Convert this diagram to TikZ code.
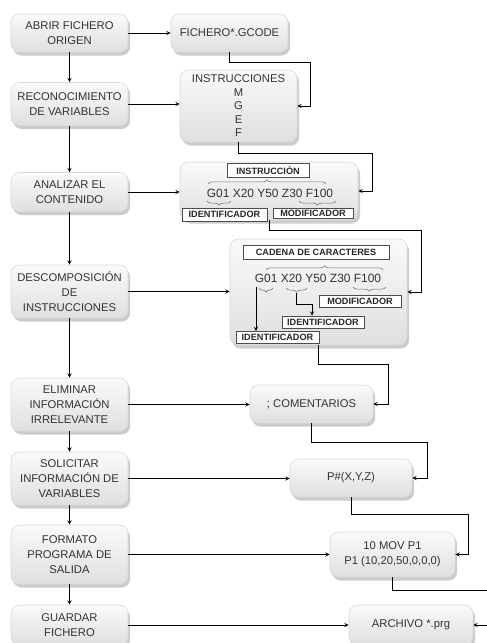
\documentclass[tikz,border=0pt]{standalone}
\usepackage{fontspec}
\setmainfont{Liberation Sans}
\usetikzlibrary{shadows,decorations.pathreplacing}

\begin{document}
\begin{tikzpicture}[x=0.025cm,y=-0.025cm,>=stealth,
  paso/.style={rounded corners=6pt,top color=gray!4,bottom color=gray!25,draw=gray!30,
    drop shadow={shadow xshift=1.5pt,shadow yshift=-2.5pt,opacity=0.4},
    align=center,inner sep=1pt,text=black!80,font=\fontsize{8}{10.5}\selectfont},
  etiqueta/.style={draw=black!70,fill=white,inner sep=0pt,text=black!85,font=\fontsize{6.5}{7}\selectfont\bfseries},
  codigo/.style={inner sep=0pt,text=black!80,font=\fontsize{8.5}{9}\selectfont},
  llave/.style={decorate,decoration={brace,amplitude=3pt},black!55}]
  \useasboundingbox (0,0) rectangle (486,643);
  % columna izquierda
  \node[paso,minimum width=2.925cm,minimum height=0.95cm] (abrir) at (69.5,33) {ABRIR FICHERO\\ORIGEN};
  \node[paso,minimum width=2.925cm,minimum height=1.075cm] (recon) at (69.5,104) {RECONOCIMIENTO\\DE VARIABLES};
  \node[paso,minimum width=2.925cm,minimum height=0.975cm] (analizar) at (69.5,192) {ANALIZAR EL\\CONTENIDO};
  \node[paso,minimum width=2.925cm,minimum height=1.325cm] (descomp) at (69.5,291.5) {DESCOMPOSICIÓN\\DE\\INSTRUCCIONES};
  \node[paso,minimum width=2.925cm,minimum height=1.325cm] (eliminar) at (69.5,404.5) {ELIMINAR\\INFORMACIÓN\\IRRELEVANTE};
  \node[paso,minimum width=2.925cm,minimum height=1.325cm] (solicitar) at (69.5,478.5) {SOLICITAR\\INFORMACIÓN DE\\VARIABLES};
  \node[paso,minimum width=2.925cm,minimum height=1.475cm] (formato) at (69.5,554.5) {FORMATO\\PROGRAMA DE\\SALIDA};
  \node[paso,minimum width=2.925cm,minimum height=1.0cm] (guardar) at (69.5,625) {GUARDAR\\FICHERO};
  % columna derecha
  \node[paso,minimum width=2.925cm,minimum height=0.95cm] (gcode) at (229.5,33) {FICHERO*.GCODE};
  \node[paso,minimum width=2.925cm,minimum height=1.8cm,font=\fontsize{8}{9.6}\selectfont] (instr) at (238.5,106) {INSTRUCCIONES\\M\\G\\E\\F};
  \node[paso,minimum width=4.45cm,minimum height=1.45cm] (anal) at (269,191) {};
  \node[paso,minimum width=4.425cm,minimum height=2.65cm] (decomp) at (318.5,292) {};
  \node[paso,minimum width=3.075cm,minimum height=0.95cm] (coment) at (311.5,404) {; COMENTARIOS};
  \node[paso,minimum width=3.05cm,minimum height=0.95cm] (pxyz) at (351,478) {P\#(X,Y,Z)};
  \node[paso,minimum width=3.125cm,minimum height=1.125cm] (mov) at (392.5,554.5) {10 MOV P1\\P1 (10,20,50,0,0,0)};
  \node[paso,minimum width=3.1cm,minimum height=1.0cm] (archivo) at (411,625) {ARCHIVO *.prg};
  % contenido: analizar
  \node[etiqueta,minimum width=2.05cm,minimum height=0.35cm] (instruccion) at (268,170) {INSTRUCCIÓN};
  \node[codigo] (linea1) at (270,193) {G01 X20 Y50 Z30 F100};
  \node[etiqueta,minimum width=2.125cm,minimum height=0.325cm] (ident1) at (224.5,214.5) {IDENTIFICADOR};
  \node[etiqueta,minimum width=2.0cm,minimum height=0.26cm] (modif1) at (313,213.5) {MODIFICADOR};
  \draw[llave] (208,184) -- (326,184);
  \draw[llave] (231,201) -- (207,201);
  \draw[llave] (336,201) -- (299,201);
  % contenido: descomposicion
  \node[etiqueta,minimum width=3.65cm,minimum height=0.35cm] (cadena) at (316,252) {CADENA DE CARACTERES};
  \node[codigo] (linea2) at (318,278) {G01 X20 Y50 Z30 F100};
  \node[etiqueta,minimum width=2.05cm,minimum height=0.3cm] (modif2) at (360,301.5) {MODIFICADOR};
  \node[etiqueta,minimum width=2.05cm,minimum height=0.3cm] (ident2) at (323,322) {IDENTIFICADOR};
  \node[etiqueta,minimum width=2.075cm,minimum height=0.3cm] (ident3) at (277.5,337.5) {IDENTIFICADOR};
  \draw[llave] (266,270) -- (383,270);
  \draw[llave] (273,288) -- (259,288);
  \draw[llave] (307,288) -- (286,288);
  \draw[llave] (386,287) -- (353,287);
  \coordinate (g01) at (256,287);
  \coordinate (x20) at (296,293);
  \coordinate (x20b) at (312,304);
  \draw[->] (g01) -- (g01 |- ident3.north);
  \draw[->] (x20) |- (x20b) -- (x20b |- ident2.north);
  % flechas verticales
  \foreach \a/\b in {abrir/recon,recon/analizar,analizar/descomp,descomp/eliminar,
    eliminar/solicitar,solicitar/formato,formato/guardar}
    \draw[->] (\a) -- (\b);
  % flechas horizontales
  \foreach \a/\b in {abrir/gcode,recon/instr,analizar/anal,descomp/decomp,
    eliminar/coment,solicitar/pxyz,formato/mov,guardar/archivo}
    \draw[->] (\a.east) -- (\a.east -| \b.west);
  % enlaces a la derecha
  \draw[->] (gcode.south) |- (310,62) |- (instr.east);
  \draw[->] (instr.south) |- (372,153) |- (anal.east);
  \draw[->] (anal.south) |- (421,230) |- (decomp.east);
  \draw[->] (decomp.south) |- (388,364) |- (coment.east);
  \draw[->] (coment.south) |- (427,442) |- (pxyz.east);
  \draw[->] (pxyz.south) |- (468,514) |- (mov.east);
  \draw[->] (mov.south) |- (495,590) |- (archivo.east);
\end{tikzpicture}
\end{document}
